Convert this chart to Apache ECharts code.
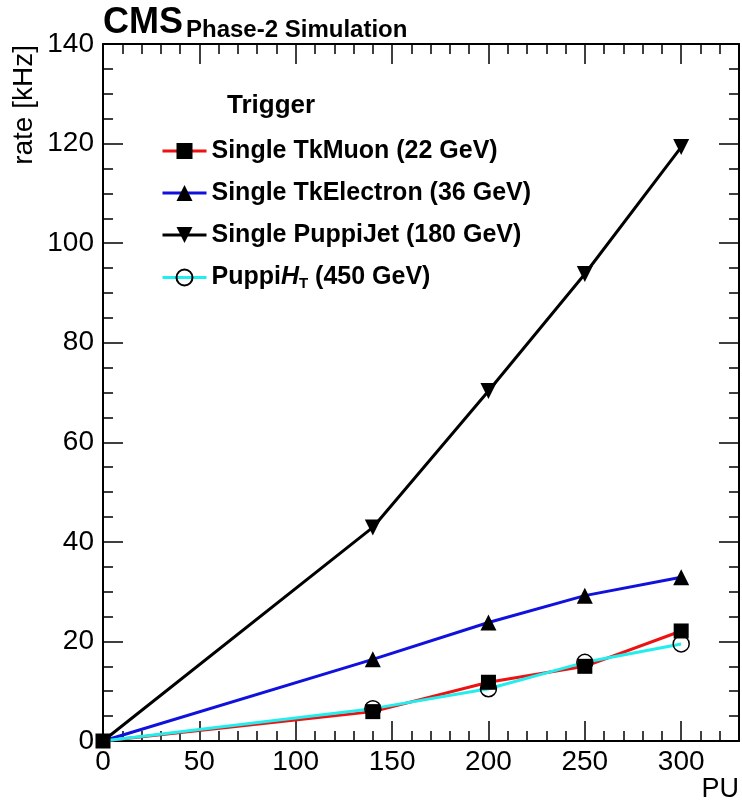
<!DOCTYPE html>
<html>
<head>
<meta charset="utf-8">
<script src="https://cdn.jsdelivr.net/npm/echarts@6/dist/echarts.min.js"></script>
<style>
  html, body { margin: 0; padding: 0; background: #fff; }
  #chart { width: 742px; height: 802px; }
</style>
</head>
<body>
<div id="chart"></div>
<script>
// Pile-up scan of L1 trigger rates
const pileup = [0, 140, 200, 250, 300];
const tkMuonRate = [0, 5.9, 11.8, 15.0, 22.1];
const tkElectronRate = [0, 16.4, 23.8, 29.2, 32.9];
const puppiJetRate = [0, 42.9, 70.3, 93.8, 119.3];
const puppiHtRate = [0, 6.5, 10.5, 15.8, 19.5];

const seriesNames = [
  'Single TkMuon (22 GeV)',
  'Single TkElectron (36 GeV)',
  'Single PuppiJet (180 GeV)',
  'PuppiHT (450 GeV)'
];

const FONT = '"Liberation Sans", Arial, Helvetica, sans-serif';

function pairs(ys) {
  return pileup.map((x, i) => [x, ys[i]]);
}

const chart = echarts.init(document.getElementById('chart'), null, { renderer: 'canvas' });

const tickStyle = { color: '#000', width: 1.5 };

// major ticks (with the frame line) and minor ticks are drawn by separate axes,
// all kept on the frame edges (onZero off)
function axisPair(kind, pos, labels) {
  const isX = kind === 'x';
  const range = isX ? { min: 0, max: 330 } : { min: 0, max: 140 };
  const major = Object.assign({
    type: 'value', position: pos, interval: isX ? 50 : 20,
    axisLine: { show: true, onZero: false, lineStyle: { color: '#000', width: 2 } },
    axisTick: { show: true, inside: true, length: 20, lineStyle: tickStyle },
    axisLabel: labels ? {
      show: true, showMaxLabel: !isX, color: '#000', fontSize: 28, fontFamily: FONT, margin: isX ? 7 : 9
    } : { show: false },
    splitLine: { show: false }
  }, range);
  const minor = Object.assign({
    type: 'value', position: pos, interval: isX ? 10 : 5,
    axisLine: { show: false, onZero: false },
    axisTick: { show: true, inside: true, length: 10, lineStyle: tickStyle },
    axisLabel: { show: false },
    splitLine: { show: false }
  }, range);
  return [major, minor];
}

function lineSeries(name, ys, color, symbol, size, extra) {
  return Object.assign({
    name: name,
    type: 'line',
    xAxisIndex: 0,
    yAxisIndex: 0,
    data: pairs(ys),
    symbol: symbol,
    symbolSize: size,
    showAllSymbol: true,
    clip: false,
    lineStyle: { color: color, width: 3 },
    itemStyle: { color: '#000' },
    emphasis: { disabled: true },
    animation: false
  }, extra || {});
}

// only the muon marker is drawn at zero pile-up; the others sit under it
function hideAtZero(size) {
  return (v) => (v[0] === 0 ? 0 : size);
}

chart.setOption({
  backgroundColor: '#fff',
  animation: false,
  grid: { left: 103, right: 3, top: 44, bottom: 61, containLabel: false },
  xAxis: [].concat(axisPair('x', 'bottom', true), axisPair('x', 'top', false)),
  yAxis: [].concat(axisPair('y', 'left', true), axisPair('y', 'right', false)),
  legend: {
    orient: 'vertical',
    left: 156,
    top: 133,
    itemWidth: 44,
    itemHeight: 20,
    itemGap: 16,
    selectedMode: false,
    data: seriesNames,
    lineStyle: { width: 3 },
    textStyle: {
      color: '#000', fontSize: 25, fontWeight: 'bold', fontFamily: FONT, lineHeight: 26,
      rich: {
        b: { fontSize: 25, fontWeight: 'bold', fontFamily: FONT, color: '#000', lineHeight: 26 },
        i: { fontSize: 25, fontWeight: 'bold', fontStyle: 'italic', fontFamily: FONT, color: '#000', lineHeight: 26 },
        s: { fontSize: 15, fontWeight: 'bold', fontFamily: FONT, color: '#000', lineHeight: 26, padding: [12, 0, 0, 0] }
      }
    },
    formatter: function (name) {
      if (name === 'PuppiHT (450 GeV)') {
        return '{b|Puppi}{i|H}{s|T}{b| (450 GeV)}';
      }
      return name;
    }
  },
  graphic: [
    { type: 'text', x: 103, y: 41, style: { text: 'CMS', fontSize: 36, fontWeight: 'bold', fontFamily: FONT, fill: '#000', textVerticalAlign: 'bottom' } },
    { type: 'text', x: 186, y: 42, style: { text: 'Phase-2 Simulation', fontSize: 24, fontWeight: 'bold', fontFamily: FONT, fill: '#000', textVerticalAlign: 'bottom' } },
    { type: 'text', x: 227, y: 106, style: { text: 'Trigger', fontSize: 26, fontWeight: 'bold', fontFamily: FONT, fill: '#000', textVerticalAlign: 'middle' } },
    { type: 'text', x: 24, y: 45, rotation: Math.PI / 2, style: { text: 'rate [kHz]', fontSize: 28, fontFamily: FONT, fill: '#000', textAlign: 'right', textVerticalAlign: 'middle' } },
    { type: 'text', x: 739, y: 790, style: { text: 'PU', fontSize: 27, fontFamily: FONT, fill: '#000', textAlign: 'right', textVerticalAlign: 'middle' } }
  ],
  series: [
    lineSeries(seriesNames[0], tkMuonRate, '#ee1111', 'rect', 15),
    lineSeries(seriesNames[1], tkElectronRate, '#1111dd', 'triangle', hideAtZero(16)),
    lineSeries(seriesNames[2], puppiJetRate, '#000000', 'triangle', hideAtZero(16), { symbolRotate: 180 }),
    lineSeries(seriesNames[3], puppiHtRate, '#22eeee', 'circle', hideAtZero(16), {
      itemStyle: { color: 'rgba(255,255,255,0)', borderColor: '#000', borderWidth: 1.5 }
    })
  ]
});
</script>
</body>
</html>
